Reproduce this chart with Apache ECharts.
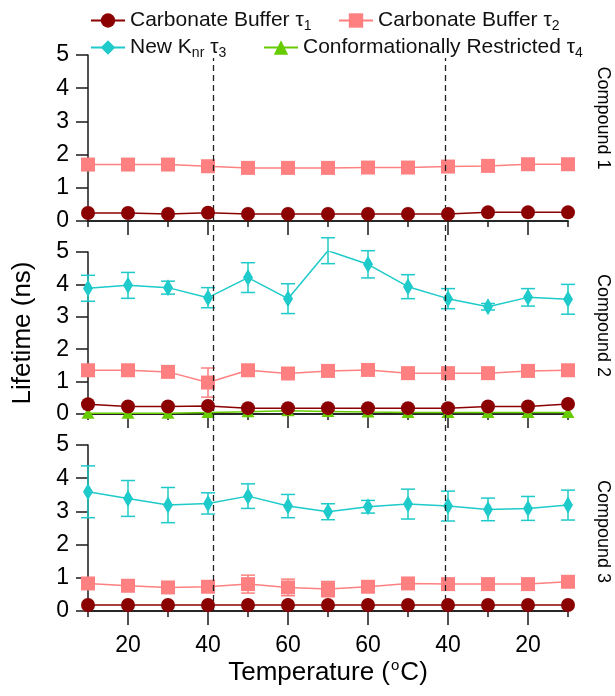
<!DOCTYPE html>
<html><head><meta charset="utf-8">
<script src="https://cdn.jsdelivr.net/npm/echarts@6/dist/echarts.min.js"></script>
<style>html,body{margin:0;padding:0;background:#fff}#c{width:615px;height:696px}</style>
</head><body><div id="c"></div>
<script>
// ---- data ----
const temperatures = [10, 20, 30, 40, 50, 60, 70, 60, 50, 40, 30, 20, 10];
const compoundNames = ['Compound 1', 'Compound 2', 'Compound 3'];
const seriesNames = ['Carbonate Buffer τ1', 'Carbonate Buffer τ2', 'New Knr τ3', 'Conformationally Restricted τ4'];

const c1_tau1 = [0.24, 0.24, 0.21, 0.25, 0.21, 0.21, 0.21, 0.21, 0.21, 0.21, 0.26, 0.26, 0.26];
const c1_tau2 = [1.70, 1.70, 1.70, 1.65, 1.60, 1.60, 1.60, 1.61, 1.61, 1.64, 1.66, 1.71, 1.71];

const c2_tau1 = [0.30, 0.23, 0.23, 0.25, 0.18, 0.18, 0.18, 0.18, 0.18, 0.18, 0.23, 0.23, 0.31];
const c2_tau2 = [1.35, 1.35, 1.30, 0.97, 1.35, 1.25, 1.33, 1.36, 1.26, 1.26, 1.26, 1.33, 1.35];
const c2_tau2_err = [0, 0, 0, 0.45, 0, 0, 0, 0, 0, 0, 0, 0, 0];
const c2_tau3 = [3.88, 3.97, 3.90, 3.59, 4.21, 3.56, 5.04, 4.62, 3.93, 3.56, 3.31, 3.60, 3.54];
const c2_tau3_err = [0.40, 0.40, 0.20, 0.31, 0.46, 0.46, 0.40, 0.42, 0.37, 0.31, 0.10, 0.27, 0.46];
const c2_tau4 = [0.02, 0.02, 0.02, 0.05, 0.07, 0.10, 0.08, 0.06, 0.05, 0.05, 0.05, 0.05, 0.05];

const c3_tau1 = [0.18, 0.18, 0.18, 0.18, 0.18, 0.18, 0.18, 0.18, 0.18, 0.18, 0.18, 0.18, 0.18];
const c3_tau2 = [0.83, 0.76, 0.71, 0.73, 0.81, 0.71, 0.66, 0.73, 0.83, 0.81, 0.81, 0.81, 0.88];
const c3_tau2_err = [0.10, 0, 0, 0, 0.27, 0.25, 0.23, 0, 0, 0, 0, 0, 0];
const c3_tau3 = [3.59, 3.39, 3.19, 3.24, 3.46, 3.16, 2.99, 3.14, 3.22, 3.16, 3.06, 3.09, 3.19];
const c3_tau3_err = [0.78, 0.54, 0.53, 0.32, 0.37, 0.35, 0.24, 0.19, 0.45, 0.45, 0.34, 0.36, 0.45];

const dashedPositions = [3.12, 8.92]; // position along the category index axis

// ---- styling ----
const FONT = 'Liberation Sans, Arial, sans-serif';
const AX = '#1a1a1a';
const C_T1 = '#8b0000', C_T2 = '#ff8080', C_T3 = '#1ecaca', C_T4 = '#66cc00';

const gridDefs = [
  { left: 88, right: 47, top: 55, height: 166 },
  { left: 88, right: 47, top: 252, height: 162 },
  { left: 88, right: 47, top: 445, height: 166 },
  { left: 88, right: 47, top: 58, bottom: 85 }
].map(g => Object.assign({ containLabel: false, outerBoundsMode: 'none' }, g));

const xAxes = [];
for (let g = 0; g < 3; g++) {
  const base = {
    type: 'category', gridIndex: g, data: temperatures.map(String), boundaryGap: false, position: 'bottom',
    axisLine: { show: true, onZero: false, lineStyle: { color: AX, width: 1.5 } },
    splitLine: { show: false }
  };
  xAxes.push(Object.assign({}, base, {
    axisTick: { show: true, length: 14, interval: (i) => i % 2 === 1, lineStyle: { color: AX, width: 1.5 } },
    axisLabel: { show: g === 2, interval: (i) => i % 2 === 1, margin: 23, fontSize: 23, color: '#000', fontFamily: FONT },
    name: g === 2 ? 'Temperature ({sup|o}C)' : '',
    nameLocation: 'middle', nameGap: 45,
    nameTextStyle: { fontSize: 26, color: '#000', fontFamily: FONT, lineHeight: 30,
      rich: { sup: { fontSize: 15, lineHeight: 30, verticalAlign: 'top', color: '#000', fontFamily: FONT, padding: [0, 1, 12, 1] } } }
  }));
  xAxes.push(Object.assign({}, base, {
    axisTick: { show: true, length: 6, interval: (i) => i % 2 === 0, lineStyle: { color: AX, width: 1.5 } },
    axisLabel: { show: false }
  }));
}
xAxes.push({ type: 'value', gridIndex: 3, min: 0, max: 12, show: false });

const yAxes = [];
for (let g = 0; g < 3; g++) {
  yAxes.push({
    type: 'value', gridIndex: g, min: 0, max: 5, interval: 1, position: 'left',
    axisLine: { show: true, lineStyle: { color: AX, width: 1.5 } },
    axisTick: { show: true, length: 12, lineStyle: { color: AX, width: 1.5 } },
    axisLabel: { fontSize: 23, color: '#000', margin: 19, fontFamily: FONT },
    splitLine: { show: false },
    name: g === 1 ? 'Lifetime (ns)' : '', nameLocation: 'middle', nameGap: 52,
    nameTextStyle: { fontSize: 26, color: '#000', fontFamily: FONT }
  });
}
const compoundPad = [[0, 40, 0, 0], [0, 15, 0, 0], [0, 0, 0, 7]];
for (let g = 0; g < 3; g++) {
  yAxes.push({
    type: 'value', gridIndex: g, min: 0, max: 1, position: 'right',
    axisLine: { show: false }, axisTick: { show: false }, axisLabel: { show: false }, splitLine: { show: false },
    name: compoundNames[g], nameLocation: 'middle', nameRotate: -90, nameGap: 26,
    nameTextStyle: { fontSize: 18, color: '#000', fontFamily: FONT, padding: compoundPad[g] }
  });
}
yAxes.push({ type: 'value', gridIndex: 3, min: 0, max: 1, show: false });

function lineS(name, data, g, color, symbol, size, z) {
  return { type: 'line', name, data, xAxisIndex: 2 * g, yAxisIndex: g, symbol, symbolSize: size,
    showSymbol: true, lineStyle: { color, width: 1.5 }, itemStyle: { color }, z, animation: false,
    emphasis: { disabled: true } };
}
function errS(name, vals, errs, g, color) {
  const data = vals.map((v, i) => [i, v - errs[i], v + errs[i], errs[i]]).filter(d => d[3] > 0);
  return {
    type: 'custom', name, xAxisIndex: 2 * g, yAxisIndex: g, z: 1, silent: true, animation: false,
    encode: { x: 0, y: [1, 2] }, data,
    renderItem(params, api) {
      const x = api.value(0);
      const lo = api.coord([x, api.value(1)]);
      const hi = api.coord([x, api.value(2)]);
      const w = 7;
      const st = { stroke: color, lineWidth: 1.5 };
      return { type: 'group', children: [
        { type: 'line', shape: { x1: lo[0], y1: lo[1], x2: hi[0], y2: hi[1] }, style: st },
        { type: 'line', shape: { x1: lo[0] - w, y1: lo[1], x2: lo[0] + w, y2: lo[1] }, style: st },
        { type: 'line', shape: { x1: hi[0] - w, y1: hi[1], x2: hi[0] + w, y2: hi[1] }, style: st }
      ] };
    }
  };
}

const [N1, N2, N3, N4] = seriesNames;
const series = [
  lineS(N1, c1_tau1, 0, C_T1, 'circle', 14, 5),
  lineS(N2, c1_tau2, 0, C_T2, 'rect', 14, 4),
  lineS(N3, c2_tau3, 1, C_T3, 'diamond', [10, 17], 4),
  lineS(N4, c2_tau4, 1, C_T4, 'triangle', [13, 11], 3),
  lineS(N1, c2_tau1, 1, C_T1, 'circle', 14, 5),
  lineS(N2, c2_tau2, 1, C_T2, 'rect', 14, 4),
  lineS(N1, c3_tau1, 2, C_T1, 'circle', 14, 5),
  lineS(N2, c3_tau2, 2, C_T2, 'rect', 14, 4),
  lineS(N3, c3_tau3, 2, C_T3, 'diamond', [10, 17], 4),
  errS(N2, c2_tau2, c2_tau2_err, 1, C_T2),
  errS(N3, c2_tau3, c2_tau3_err, 1, C_T3),
  errS(N2, c3_tau2, c3_tau2_err, 2, C_T2),
  errS(N3, c3_tau3, c3_tau3_err, 2, C_T3),
  { type: 'line', xAxisIndex: 6, yAxisIndex: 6, data: [], z: 10, animation: false,
    markLine: { silent: true, symbol: ['none', 'none'], label: { show: false }, animation: false,
      lineStyle: { type: [6, 4], color: '#222', width: 1.3 },
      data: dashedPositions.map(v => ({ xAxis: v })) } }
];

const legendText = {
  [N1]: '{n|Carbonate Buffer τ}{s|1}',
  [N2]: '{n|Carbonate Buffer τ}{s|2}',
  [N3]: '{n|New K}{s|nr}{n| τ}{s|3}',
  [N4]: '{n|Conformationally Restricted τ}{s|4}'
};
const legendPos = [[85, 5], [333, 5], [85, 32], [258, 32]];
const legends = seriesNames.map((nm, k) => ({
  data: [nm], left: legendPos[k][0], top: legendPos[k][1], orient: 'horizontal',
  itemWidth: 34, itemHeight: 18, selectedMode: false,
  formatter: (name) => legendText[name],
  textStyle: { fontSize: 21, color: '#111', fontFamily: FONT,
    rich: {
      n: { fontSize: 21, lineHeight: 25, color: '#111', fontFamily: FONT },
      s: { fontSize: 14, lineHeight: 14, verticalAlign: 'bottom', color: '#111', fontFamily: FONT }
    } }
}));

const chart = echarts.init(document.getElementById('c'), null, { renderer: 'canvas' });
chart.setOption({
  animation: false,
  backgroundColor: '#fff',
  grid: gridDefs,
  xAxis: xAxes,
  yAxis: yAxes,
  legend: legends,
  series
});
</script></body></html>
